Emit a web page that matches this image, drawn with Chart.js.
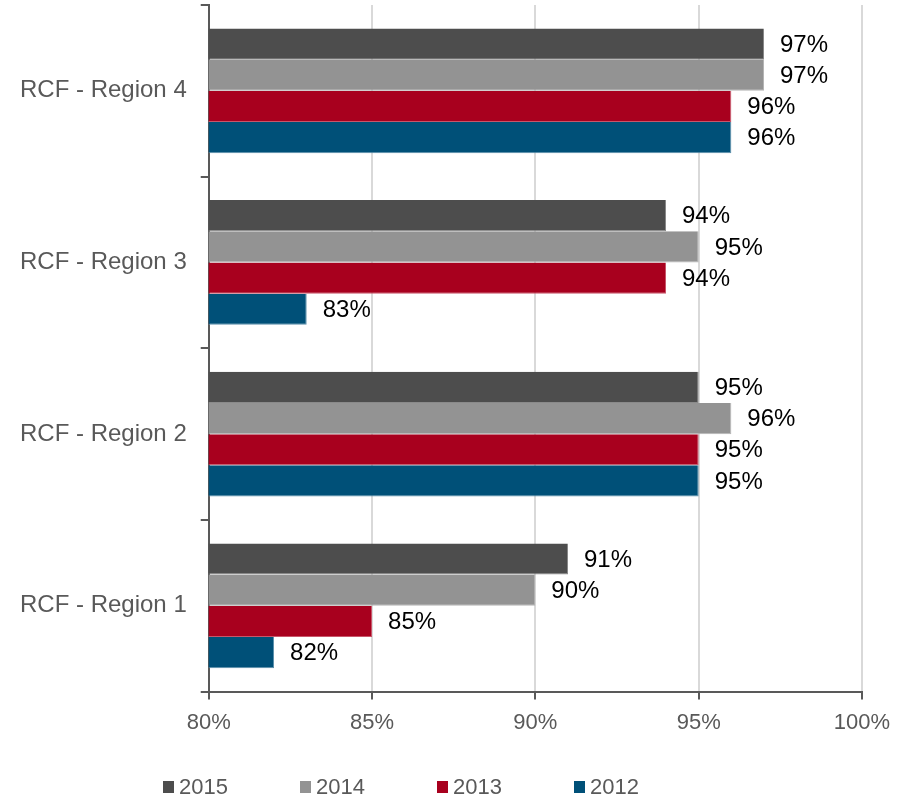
<!DOCTYPE html>
<html>
<head>
<meta charset="utf-8">
<script src="https://cdn.jsdelivr.net/npm/chart.js@4.4.1/dist/chart.umd.min.js"></script>
<style>
  body { margin: 0; background: #fff; font-family: "Liberation Sans", Arial, sans-serif; }
  #wrap { position: relative; width: 910px; height: 805px; }
  #legend { position: absolute; left: 163px; top: 774px; display: flex; }
  #legend .item { width: 137px; display: flex; align-items: center; font-size: 22px; color: #595959; }
  #legend .box { width: 11px; height: 12px; margin-right: 5px; }
</style>
</head>
<body>
<div id="wrap">
  <canvas id="grafico" width="910" height="805"></canvas>
  <div id="legend"></div>
</div>
<script>
const regioes = ['RCF - Region 4', 'RCF - Region 3', 'RCF - Region 2', 'RCF - Region 1'];
const anos = ['2015', '2014', '2013', '2012'];
const v2015 = [97, 94, 95, 91];
const v2014 = [97, 95, 96, 90];
const v2013 = [96, 94, 95, 85];
const v2012 = [96, 83, 95, 82];
const eixoX = [80, 85, 90, 95, 100];

const cores = ['#4d4d4d', '#939393', '#a8001e', '#005078'];
const bordas = ['#8a8a8a', '#b5b5b5', '#c8566a', '#5b8fab'];
const fonte = '"Liberation Sans", Arial, sans-serif';

// rótulos de valor ao lado das barras
const rotulos = {
  id: 'rotulos',
  afterDatasetsDraw(chart) {
    const ctx = chart.ctx;
    ctx.save();
    ctx.font = '24px ' + fonte;
    ctx.fillStyle = '#000';
    ctx.textBaseline = 'middle';
    chart.data.datasets.forEach((ds, i) => {
      chart.getDatasetMeta(i).data.forEach((bar, j) => {
        ctx.fillText(ds.data[j] + '%', bar.x + 16, bar.y + 1);
      });
    });
    ctx.restore();
  }
};

const valores = [v2015, v2014, v2013, v2012];

const chart = new Chart(document.getElementById('grafico'), {
  type: 'bar',
  data: {
    labels: regioes,
    datasets: anos.map((a, i) => ({
      label: a,
      data: valores[i],
      backgroundColor: cores[i],
      borderColor: bordas[i],
      borderWidth: { right: 1, bottom: 1 },
      categoryPercentage: 0.727,
      barPercentage: 1
    }))
  },
  options: {
    indexAxis: 'y',
    responsive: false,
    animation: false,
    layout: { padding: { top: 5, right: 48, left: 6, bottom: 59 } },
    plugins: { legend: { display: false }, tooltip: { enabled: false } },
    scales: {
      x: {
        min: eixoX[0],
        max: eixoX[eixoX.length - 1],
        afterBuildTicks: ax => { ax.ticks = eixoX.map(v => ({ value: v })); },
        afterFit: s => { s.paddingLeft = 0; s.paddingRight = 0; },
        ticks: {
          callback: v => v + '%',
          color: '#595959',
          padding: 10,
          font: { family: fonte, size: 22 }
        },
        grid: { color: '#d9d9d9', lineWidth: 2, tickColor: '#595959', tickLength: 8 },
        border: { color: '#595959', width: 2 }
      },
      y: {
        offset: true,
        afterFit: s => { s.paddingTop = 0; s.paddingBottom = 0; },
        ticks: {
          color: '#595959',
          padding: 14,
          font: { family: fonte, size: 24 }
        },
        grid: { offset: true, drawOnChartArea: false, tickColor: '#595959', tickLength: 8, lineWidth: 2 },
        border: { color: '#595959', width: 2 }
      }
    }
  },
  plugins: [rotulos]
});

// legenda
const leg = document.getElementById('legend');
anos.forEach((a, i) => {
  const item = document.createElement('div');
  item.className = 'item';
  item.innerHTML = '<span class="box" style="background:' + cores[i] + '"></span>' + a;
  leg.appendChild(item);
});
</script>
</body>
</html>
